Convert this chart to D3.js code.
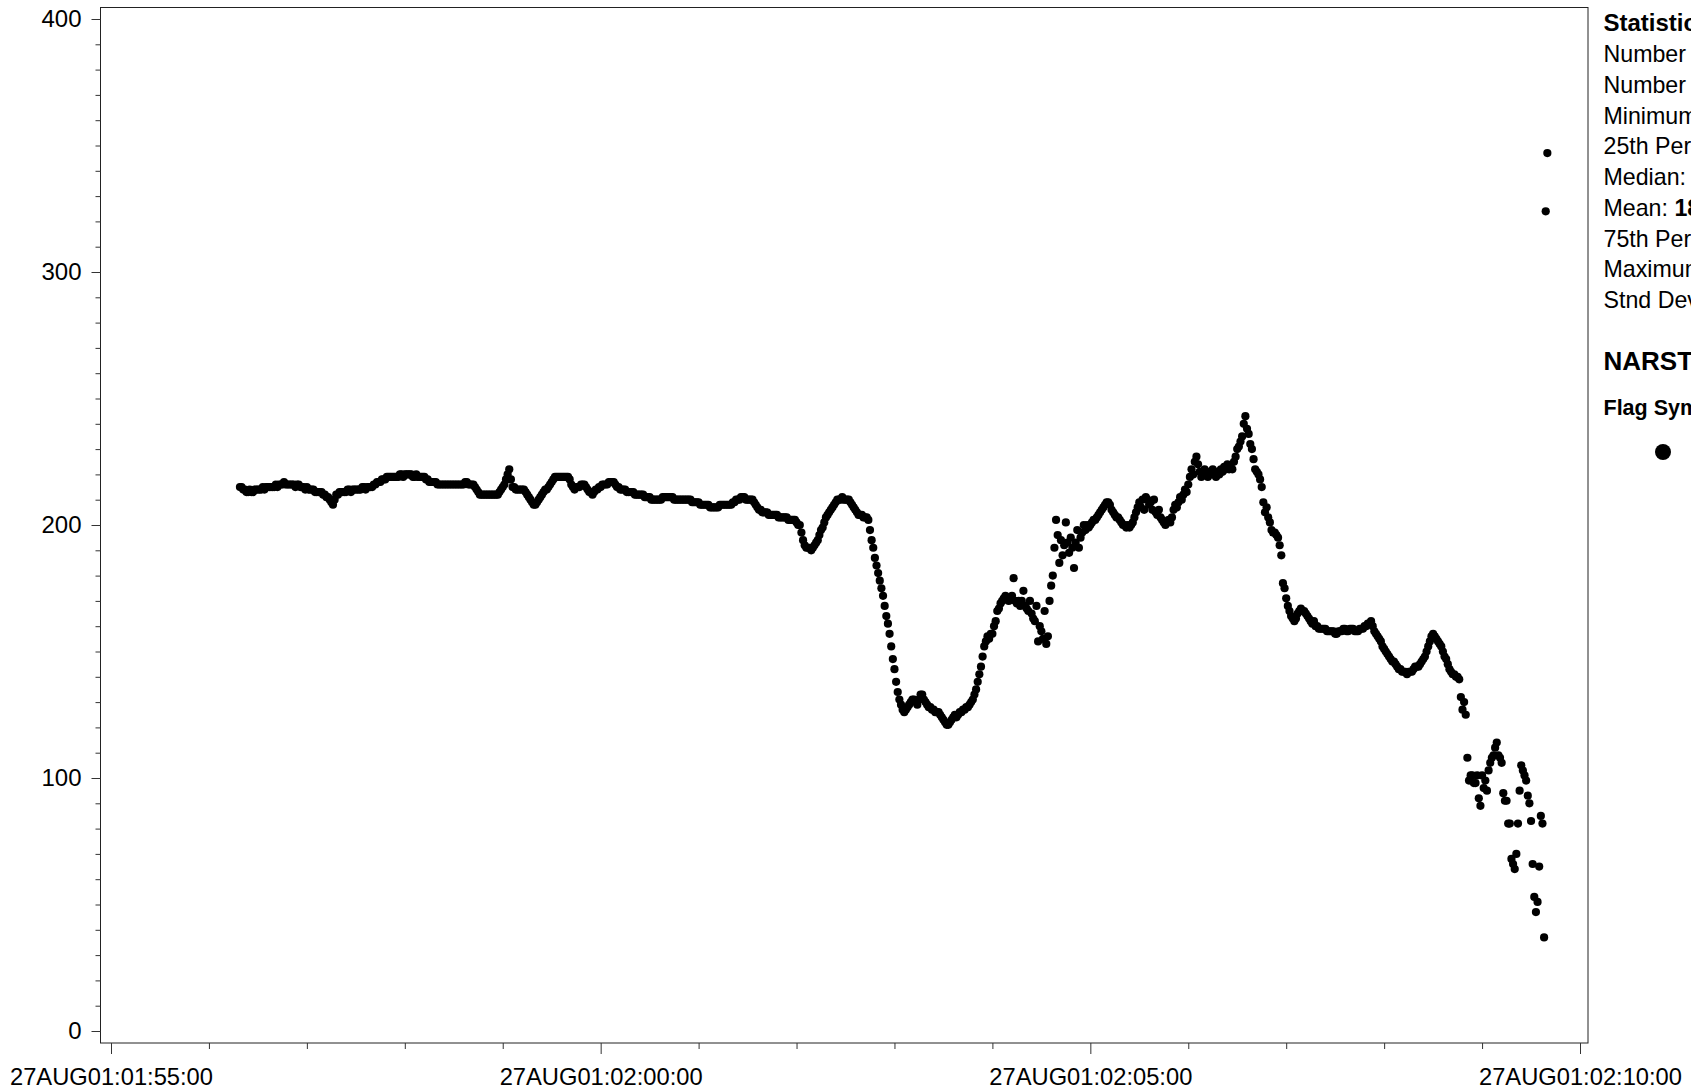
<!DOCTYPE html>
<html><head><meta charset="utf-8">
<script src="https://cdn.jsdelivr.net/npm/d3@7"></script>
<style>html,body{margin:0;padding:0;background:#fff;overflow:hidden}</style>
</head><body><svg id="chart" width="1691" height="1089"></svg>
<script>
// ---- data (one reading per second, starting 27AUG01:01:56:19) ----
const seriesStart = [2001, 7, 27, 1, 56, 19];
const min0156 = [215,215,214,214,213,213,214,213,213,214,214,214,214,214,215,214,215,215,215,215,
  215,215,216,215,216,216,216,217,216,216,216,216,216,216,215,216,216,215,215,215,214];
const min0157 = [215,214,214,214,214,213,213,213,213,213,212,212,211,211,210,209,208,210,212,
  212,213,213,213,213,213,214,214,213,214,214,214,214,214,214,215,215,214,215,215,
  215,215,216,216,217,217,217,218,218,218,219,219,219,219,219,219,219,219,220,220,219];
const min0158 = [220,220,220,220,220,219,219,220,219,219,219,219,219,218,218,217,217,217,217,
  217,216,216,216,216,216,216,216,216,216,216,216,216,216,216,216,216,216,217,217,
  216,216,216,216,215,214,213,212,212,212,212,212,212,212,212,212,212,212,212,213,214];
const min0159 = [215,216,218,220,222,218,215,215,214,214,214,214,214,214,213,212,211,210,209,
  208,208,209,210,211,212,213,214,214,215,216,217,218,219,219,219,219,219,219,219,
  219,219,218,216,215,214,215,215,215,216,216,216,215,214,213,213,212,213,214,214,215];
const min0200 = [215,216,216,216,216,217,217,217,217,216,215,215,214,214,214,214,213,213,213,
  213,213,212,212,212,212,212,212,211,211,211,211,210,210,210,210,210,210,210,211,
  211,211,211,211,211,211,210,210,210,210,210,210,210,210,210,210,210,209,209,209,209];
const min0201 = [209,208,208,208,208,208,208,207,207,207,207,207,207,208,208,208,208,208,208,
  208,208,209,209,210,210,210,211,211,211,210,210,210,210,210,209,208,207,206,206,
  205,205,205,205,204,204,204,204,204,204,203,203,203,203,203,203,202,202,202,202,202];
const min0202 = [201,200,200,197,194,192,191,191,191,190,191,192,193,194,196,198,199,201,203,
  204,205,206,207,208,209,210,210,210,211,210,210,210,210,209,208,207,206,205,204,
  204,204,203,203,203,202,198,194,191,187,184,181,178,175,172,168,164,161,157,152,147];
const min0203 = [143,138,134,131,129,127,126,127,128,129,130,131,131,130,129,131,133,133,131,
  130,129,128,128,127,127,126,126,126,125,124,123,122,121,121,122,123,124,125,124,
  125,126,126,127,127,128,128,129,130,131,133,135,138,141,144,148,152,154,156,155,157];
const min0204 = [157,160,162,166,167,169,170,171,172,171,170,171,172,179,170,169,170,168,170,174,
  168,167,166,170,165,163,162,168,154,160,158,155,166,153,156,170,176,180,191,202,
  196,185,194,188,192,201,193,189,195,191,183,193,198,191,195,197,200,198,200,199];
const min0205 = [200,201,202,202,203,204,205,206,207,208,209,209,208,206,205,204,203,203,202,201,200,
  200,199,200,199,200,201,203,205,207,209,207,210,206,211,210,208,209,206,210,205,
  204,206,203,202,201,200,201,202,201,203,206,208,207,209,211,210,212,214,213];
const min0206 = [216,
  219,222,220,225,227,224,221,219,220,222,220,219,221,220,222,221,219,221,220,222,
  221,223,222,224,222,223,222,225,227,230,231,233,235,240,243,238,236,232,230,226,
  222,221,220,218,215,209,205,207,203,201,198,197,197,196,195,192,188,177,175];
const min0207 = [171,168,166,164,163,162,163,165,166,167,166,166,165,164,163,162,161,162,160,160,159,
  159,159,159,159,158,158,158,158,158,157,157,158,158,158,159,159,158,158,159,159,
  159,158,158,158,159,159,159,160,160,161,161,162,160,158,157,156,155,154,152];
const min0208 = [151,
  150,149,148,147,146,146,145,144,143,143,142,142,142,141,142,142,142,143,144,144,
  144,145,146,147,148,150,152,154,156,157,156,155,154,153,152,150,148,147,145,143,
  142,141,141,140,140,139,132,127,130,125,108,99,101,101,98,98,101,92,89];
const min0209 = [101,96,99,95,103,106,108,109,112,114,109,108,106,94,91,91,82,82,68,66,
  64,70,82,95,105,103,101,99,93,90,83,66,53,47,51,65,85,82,37,324,347];

const yMajorTicks = [0, 100, 200, 300, 400];
const xMajorTicks = [[2001,7,27,1,55,0],[2001,7,27,2,0,0],[2001,7,27,2,5,0],[2001,7,27,2,10,0]];
const xTickLabels = ["27AUG01:01:55:00","27AUG01:02:00:00","27AUG01:02:05:00","27AUG01:02:10:00"];
const statsLines = ["Number","Number","Minimum","25th Percentile","Median:","Mean: ","75th Percentile","Maximum","Stnd Dev"];
const meanValueText = "18";
const statsTitle = "Statistics";
const siteTitle = "NARSTO";
const flagTitle = "Flag Symbol";

// ---- build ----
const toDate = a => new Date(a[0], a[1], a[2], a[3], a[4], a[5]);
const values = [].concat(min0156, min0157, min0158, min0159, min0200, min0201, min0202,
  min0203, min0204, min0205, min0206, min0207, min0208, min0209);
const t0 = toDate(seriesStart);
const data = values.map((v, i) => ({ t: new Date(t0.getTime() + i * 1000), v }));

const svg = d3.select("#chart");
const frame = { left: 101, top: 7.5, right: 1588.5, bottom: 1043 };

const x = d3.scaleTime()
  .domain([toDate(xMajorTicks[0]), toDate(xMajorTicks[3])])
  .range([111, 1580]);
const y = d3.scaleLinear().domain([0, 400]).range([1031, 19]);

const font = "'Liberation Sans', Arial, Helvetica, sans-serif";

// frame
svg.append("rect")
  .attr("x", frame.left - 0.5).attr("y", frame.top)
  .attr("width", frame.right - frame.left).attr("height", frame.bottom - frame.top)
  .attr("fill", "none").attr("stroke", "#222").attr("stroke-width", 1);

// y axis
const yMinor = d3.range(0, 401, 10).filter(v => v % 100 !== 0);
const yAxisMinor = svg.append("g").attr("transform", `translate(${frame.left - 0.5},0)`)
  .call(d3.axisLeft(y).tickValues(yMinor).tickSize(5).tickFormat(""));
const yAxis = svg.append("g").attr("transform", `translate(${frame.left - 0.5},0)`)
  .call(d3.axisLeft(y).tickValues(yMajorTicks).tickSize(9).tickPadding(10).tickFormat(d3.format("d")));
[yAxisMinor, yAxis].forEach(g => {
  g.select(".domain").remove();
  g.selectAll("line").attr("stroke", "#333");
});
yAxis.selectAll("text").attr("font-family", font).attr("font-size", 24).attr("fill", "#000");

// x axis
const xMinor = d3.timeMinute.range(toDate(xMajorTicks[0]), toDate([2001,7,27,2,10,1]))
  .filter(d => d.getMinutes() % 5 !== 0);
const xAxisMinor = svg.append("g").attr("transform", `translate(0,${frame.bottom})`)
  .call(d3.axisBottom(x).tickValues(xMinor).tickSize(6).tickFormat(""));
const xAxis = svg.append("g").attr("transform", `translate(0,${frame.bottom})`)
  .call(d3.axisBottom(x).tickValues(xMajorTicks.map(toDate)).tickSize(11)
    .tickFormat((d, i) => xTickLabels[i]));
[xAxisMinor, xAxis].forEach(g => {
  g.select(".domain").remove();
  g.selectAll("line").attr("stroke", "#333");
});
xAxis.selectAll("text")
  .attr("font-family", font).attr("font-size", 24).attr("fill", "#000")
  .attr("y", 41.5).attr("dy", 0)
  .attr("textLength", 203).attr("lengthAdjust", "spacingAndGlyphs");

// points
svg.append("g").selectAll("circle").data(data).join("circle")
  .attr("cx", d => x(d.t)).attr("cy", d => y(d.v)).attr("r", 4.1).attr("fill", "#000");

// right-side statistics panel (clipped at window edge, as in the original)
const px = 1603.5;
svg.append("text").attr("x", px).attr("y", 31).attr("font-family", font)
  .attr("font-size", 24).attr("font-weight", "bold").text(statsTitle);
statsLines.forEach((s, i) => {
  const t = svg.append("text").attr("x", px).attr("y", 62 + i * 30.75)
    .attr("font-family", font).attr("font-size", 23.2).text(s);
  if (s.startsWith("Mean")) t.append("tspan").attr("font-weight", "bold").text(meanValueText);
});
svg.append("text").attr("x", px).attr("y", 370).attr("font-family", font)
  .attr("font-size", 26).attr("font-weight", "bold").text(siteTitle);
svg.append("text").attr("x", px).attr("y", 415).attr("font-family", font)
  .attr("font-size", 21.5).attr("font-weight", "bold").text(flagTitle);
svg.append("circle").attr("cx", 1663).attr("cy", 452).attr("r", 8).attr("fill", "#000");
</script>
</body></html>
